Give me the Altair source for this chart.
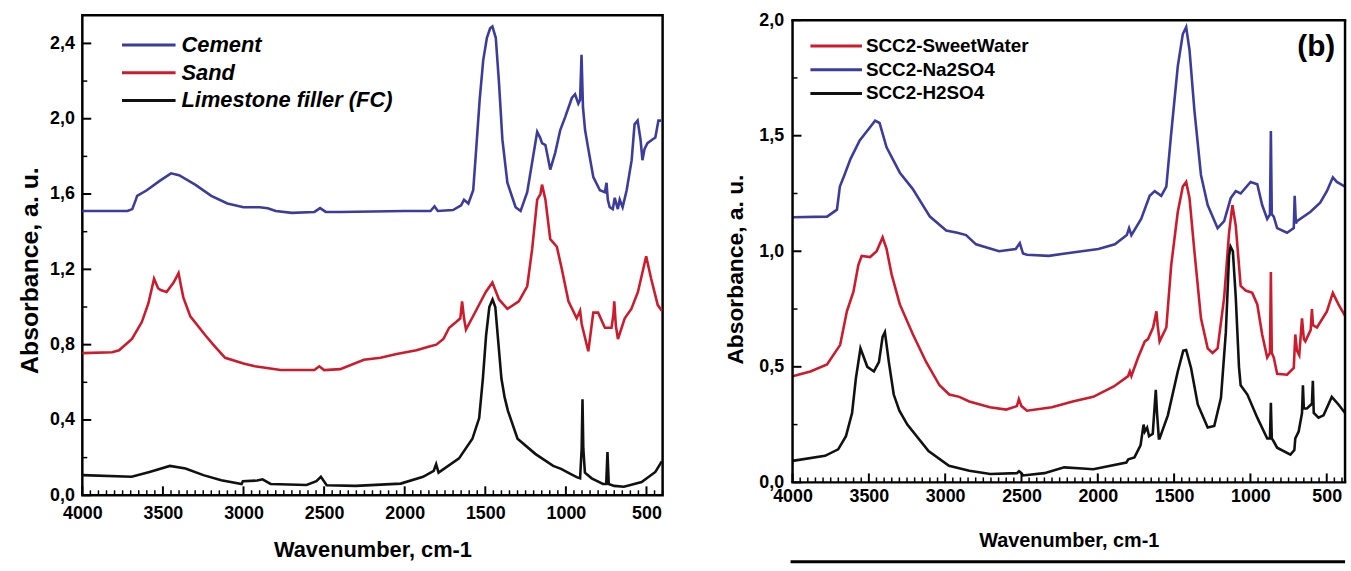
import altair as alt
import pandas as pd

FONT = "Liberation Sans"
BLUE = "#3c3c9c"
RED = "#cc1b2d"
BLACK = "#111111"

# ---------------- panel (a) ----------------
a_series = ["Cement", "Sand", "Limestone filler (FC)"]
a_colors = [BLUE, RED, BLACK]

cement_wn = [4000, 3720, 3690, 3668, 3660, 3600, 3520, 3450, 3400, 3300, 3200, 3100, 3000, 2900, 2850, 2800,
             2700, 2560, 2525, 2490, 2400, 2000, 1840, 1815, 1795, 1700, 1650, 1632, 1605, 1575, 1558, 1535,
             1513, 1490, 1470, 1456, 1435, 1415, 1394, 1363, 1312, 1281, 1240, 1209, 1178, 1160, 1148, 1127,
             1097, 1066, 1035, 1004, 963, 943, 923, 912, 903, 894, 881, 861, 830, 789, 758, 748, 740, 728,
             709, 697, 678, 666, 648, 623, 592, 574, 555, 537, 525, 512, 494, 463, 445, 426, 410]
cement_abs = [1.51, 1.51, 1.52, 1.57, 1.59, 1.62, 1.67, 1.71, 1.70, 1.65, 1.59, 1.55, 1.53, 1.53, 1.525, 1.51,
              1.50, 1.505, 1.525, 1.505, 1.505, 1.51, 1.51, 1.535, 1.51, 1.515, 1.54, 1.57, 1.55, 1.62, 1.82, 2.10,
              2.31, 2.43, 2.48, 2.49, 2.43, 2.19, 1.89, 1.66, 1.53, 1.51, 1.61, 1.77, 1.93, 1.90, 1.87, 1.86,
              1.73, 1.82, 1.94, 2.01, 2.11, 2.13, 2.08, 2.10, 2.34, 2.06, 1.94, 1.84, 1.69, 1.62, 1.61, 1.66, 1.57, 1.53,
              1.52, 1.58, 1.52, 1.57, 1.53, 1.62, 1.78, 1.97, 1.99, 1.89, 1.78, 1.84, 1.87, 1.89, 1.90, 1.99, 1.99]

sand_wn = [4000, 3815, 3772, 3692, 3631, 3590, 3555, 3530, 3514, 3477, 3434, 3403, 3385, 3373, 3330, 3237,
           3188, 3114, 3000, 2930, 2770, 2560, 2530, 2500, 2400, 2253, 2150, 2050, 1927, 1847, 1804, 1760,
           1724, 1681, 1655, 1644, 1632, 1620, 1558, 1497, 1456, 1415, 1363, 1292, 1240, 1209, 1178, 1158,
           1148, 1127, 1097, 1056, 1025, 984, 933, 912, 902, 861, 830, 800, 758, 717, 705, 700, 690, 677,
           635, 594, 553, 502, 471, 430, 405]
sand_abs = [0.755, 0.76, 0.77, 0.83, 0.92, 1.02, 1.15, 1.10, 1.09, 1.08, 1.13, 1.18, 1.10, 1.05, 0.95, 0.85,
            0.80, 0.73, 0.70, 0.685, 0.665, 0.665, 0.685, 0.665, 0.67, 0.72, 0.73, 0.75, 0.77, 0.79, 0.80, 0.83,
            0.89, 0.92, 0.94, 1.03, 0.94, 0.88, 0.98, 1.08, 1.13, 1.04, 0.99, 1.03, 1.11, 1.31, 1.57, 1.60,
            1.65, 1.57, 1.36, 1.32, 1.20, 1.03, 0.94, 0.98, 0.91, 0.765, 0.97, 0.97, 0.89, 0.89, 0.96, 1.03, 0.90, 0.83,
            0.94, 0.99, 1.08, 1.27, 1.15, 1.01, 0.98]

lime_wn = [4000, 3694, 3583, 3457, 3360, 3249, 3138, 3012, 3004, 2915, 2882, 2832, 2609, 2548, 2520, 2484,
           2303, 2025, 1886, 1820, 1805, 1790, 1663, 1580, 1538, 1515, 1495, 1475, 1455, 1438, 1420, 1400,
           1380, 1360, 1300, 1190, 1079, 1030, 975, 930, 912, 902, 897, 892, 882, 840, 770, 750, 742, 734,
           700, 640, 530, 445, 405]
lime_abs = [0.107, 0.098, 0.124, 0.156, 0.142, 0.107, 0.080, 0.060, 0.075, 0.078, 0.085, 0.060, 0.055, 0.075, 0.098, 0.053,
            0.050, 0.062, 0.098, 0.13, 0.165, 0.12, 0.196, 0.30, 0.41, 0.62, 0.85, 1.00, 1.04, 1.00, 0.82, 0.62,
            0.52, 0.45, 0.30, 0.22, 0.156, 0.14, 0.115, 0.095, 0.09, 0.25, 0.51, 0.25, 0.12, 0.09, 0.06, 0.06, 0.23, 0.06,
            0.05, 0.045, 0.07, 0.124, 0.18]

a_xmajor = [4000, 3500, 3000, 2500, 2000, 1500, 1000, 500]
a_xminor = [v for v in range(400, 4000, 50) if v % 500 != 0]
a_ymajor = [0.0, 0.4, 0.8, 1.2, 1.6, 2.0, 2.4]
a_yminor = [0.2, 0.6, 1.0, 1.4, 1.8, 2.2]

# ---------------- panel (b) ----------------
b_series = ["SCC2-SweetWater", "SCC2-Na2SO4", "SCC2-H2SO4"]
b_colors = [RED, BLUE, BLACK]

sw_wn = [4000, 3774, 3709, 3690, 3660, 3620, 3560, 3500, 3459, 3430, 3384, 3297, 3213, 3100, 2993, 2920,
         2863, 2798, 2647, 2538, 2511, 2490, 2464, 2321, 2213, 2105, 1996, 1888, 1810, 1795, 1780, 1716,
         1660, 1627, 1584, 1551, 1519, 1476, 1443, 1421, 1399, 1367, 1324, 1280, 1215, 1172, 1129, 1096,
         1064, 999, 955, 923, 890, 872, 866, 860, 847, 825, 760, 716, 710, 702, 695, 608, 543, 499, 460,
         434, 380]
sw_abs = [1.147, 1.15, 1.18, 1.28, 1.33, 1.40, 1.48, 1.53, 1.565, 1.555, 1.45, 1.34, 1.27, 1.15, 1.09, 1.08,
          1.07, 1.03, 1.00, 1.01, 1.035, 0.99, 0.985, 0.98, 0.99, 1.00, 1.01, 1.03, 1.07, 1.10, 1.07, 1.14,
          1.24, 1.26, 1.24, 1.28, 1.51, 1.80, 1.94, 1.97, 1.87, 1.61, 1.33, 1.20, 1.10, 1.13, 1.23, 1.26,
          1.25, 1.30, 1.29, 1.20, 1.14, 1.16, 1.52, 1.16, 1.15, 1.10, 1.08, 1.10, 1.24, 1.12, 1.13, 1.17, 1.21, 1.26, 1.32,
          1.30, 1.28]

na_wn = [4000, 3883, 3774, 3688, 3644, 3601, 3569, 3547, 3492, 3449, 3410, 3384, 3351, 3297, 3211, 3124,
         3037, 2973, 2907, 2842, 2707, 2600, 2530, 2517, 2500, 2464, 2301, 2164, 2030, 1895, 1801, 1790,
         1780, 1736, 1692, 1671, 1638, 1622, 1616, 1608, 1595, 1551, 1519, 1476, 1443, 1421, 1399, 1367,
         1324, 1280, 1248, 1215, 1172, 1140, 1118, 1096, 1064, 1031, 988, 955, 923, 890, 872, 866, 860,
         847, 825, 760, 716, 706, 695, 680, 662, 650, 640, 605, 597, 590, 564, 499, 460, 423, 380]
na_abs = [0.459, 0.48, 0.51, 0.595, 0.74, 0.825, 0.94, 0.98, 0.975, 1.00, 1.06, 1.01, 0.90, 0.77, 0.64, 0.52,
          0.42, 0.38, 0.37, 0.35, 0.325, 0.315, 0.33, 0.36, 0.33, 0.31, 0.325, 0.35, 0.37, 0.415, 0.46, 0.48,
          0.46, 0.54, 0.61, 0.62, 0.67, 0.72, 0.74, 0.68, 0.61, 0.67, 0.94, 1.17, 1.28, 1.30, 1.23, 1.00,
          0.71, 0.58, 0.56, 0.58, 0.80, 1.08, 1.20, 1.11, 0.85, 0.83, 0.82, 0.77, 0.64, 0.54, 0.56, 0.91, 0.56,
          0.54, 0.47, 0.466, 0.495, 0.64, 0.57, 0.55, 0.71, 0.62, 0.61, 0.66, 0.75, 0.68, 0.67, 0.74, 0.82, 0.77, 0.72]

h2_wn = [4000, 3787, 3701, 3650, 3610, 3585, 3555, 3510, 3467, 3434, 3410, 3395, 3369, 3337, 3300, 3248,
         3109, 2975, 2842, 2704, 2530, 2516, 2500, 2490, 2350, 2220, 2100, 2030, 1813, 1800, 1760, 1720,
         1700, 1692, 1677, 1664, 1640, 1620, 1612, 1600, 1595, 1541, 1476, 1440, 1421, 1389, 1345, 1280,
         1237, 1193, 1161, 1140, 1130, 1115, 1096, 1075, 1064, 1020, 955, 890, 872, 866, 860, 850, 825,
         738, 712, 706, 684, 662, 656, 650, 630, 597, 591, 585, 554, 521, 467, 423, 380]
h2_abs = [0.093, 0.115, 0.143, 0.20, 0.30, 0.45, 0.58, 0.50, 0.48, 0.52, 0.63, 0.65, 0.52, 0.38, 0.31, 0.25,
          0.136, 0.072, 0.05, 0.036, 0.04, 0.048, 0.04, 0.03, 0.04, 0.065, 0.06, 0.057, 0.086, 0.10, 0.108, 0.16,
          0.25, 0.22, 0.237, 0.20, 0.21, 0.40, 0.30, 0.19, 0.19, 0.29, 0.48, 0.57, 0.573, 0.495, 0.337, 0.237,
          0.244, 0.366, 0.65, 0.98, 1.02, 1.00, 0.80, 0.50, 0.42, 0.38, 0.28, 0.19, 0.19, 0.344, 0.19, 0.18, 0.15,
          0.12, 0.14, 0.19, 0.22, 0.30, 0.42, 0.32, 0.32, 0.34, 0.44, 0.30, 0.28, 0.29, 0.37, 0.337, 0.30]

b_xmajor = [4000, 3500, 3000, 2500, 2000, 1500, 1000, 500]
b_xminor = [v for v in range(400, 4000, 50) if v % 500 != 0]
b_ymajor = [0.0, 0.5, 1.0, 1.5, 2.0]
b_yminor = [0.25, 0.75, 1.25, 1.75]


def long_df(names, wns, vals):
    rows = []
    for n, w, v in zip(names, wns, vals):
        for x, y in zip(w, v):
            rows.append({"series": n, "wn": x, "abs": y})
    return pd.DataFrame(rows)


def panel(names, colors, wns, vals, xmaj, xmin, ymaj, ymin, ydom, W, H, xdom,
          lab_size, ttl_x, ttl_y, x_lpad, x_tpad, y_lpad, y_tpad, y_title_y,
          leg_x, leg_x2, leg_tx, leg_y, leg_dy, leg_size, leg_style):
    xs = alt.Scale(domain=xdom, nice=False, zero=False)
    ys = alt.Scale(domain=ydom, nice=False, zero=False)
    df = long_df(names, wns, vals)
    lines = alt.Chart(df).mark_line(strokeWidth=2.6).encode(
        x=alt.X("wn:Q", scale=xs, axis=alt.Axis(
            values=xmaj, format="d", title="Wavenumber, cm-1", labelFont=FONT, labelFontWeight="bold",
            labelFontSize=lab_size, labelColor="black", labelPadding=x_lpad, ticks=False, domain=False,
            grid=False, labelFlush=False, labelOverlap=False, titleFont=FONT, titleFontWeight="bold",
            titleFontSize=ttl_x, titleColor="black", titlePadding=x_tpad)),
        y=alt.Y("abs:Q", scale=ys, axis=alt.Axis(
            values=ymaj, labelExpr="replace(format(datum.value, '.1f'), '.', ',')",
            title="Absorbance, a. u.", labelFont=FONT, labelFontWeight="bold", labelFontSize=lab_size,
            labelColor="black", labelPadding=y_lpad, ticks=False, domain=False, grid=False,
            labelFlush=False, labelOverlap=False, titleFont=FONT, titleFontWeight="bold",
            titleFontSize=ttl_y, titleColor="black", titlePadding=y_tpad, titleY=y_title_y)),
        color=alt.Color("series:N", scale=alt.Scale(domain=names, range=colors), legend=None),
    )
    layers = [lines]
    layers.append(alt.Chart(pd.DataFrame({"wn": xmaj})).mark_rule(color="black", strokeWidth=2).encode(
        x=alt.X("wn:Q", scale=xs), y=alt.value(H), y2=alt.value(H - 9)))
    layers.append(alt.Chart(pd.DataFrame({"wn": xmin})).mark_rule(color="black", strokeWidth=1.5).encode(
        x=alt.X("wn:Q", scale=xs), y=alt.value(H), y2=alt.value(H - 5)))
    layers.append(alt.Chart(pd.DataFrame({"abs": ymaj})).mark_rule(color="black", strokeWidth=2).encode(
        y=alt.Y("abs:Q", scale=ys), x=alt.value(0), x2=alt.value(9)))
    layers.append(alt.Chart(pd.DataFrame({"abs": ymin})).mark_rule(color="black", strokeWidth=1.5).encode(
        y=alt.Y("abs:Q", scale=ys), x=alt.value(0), x2=alt.value(5)))
    for i, (n, c) in enumerate(zip(names, colors)):
        d = pd.DataFrame({"series": [n]})
        yy = leg_y + leg_dy * i
        layers.append(alt.Chart(d).mark_rule(color=c, strokeWidth=3).encode(
            x=alt.value(leg_x), x2=alt.value(leg_x2), y=alt.value(yy)))
        layers.append(alt.Chart(d).mark_text(align="left", baseline="middle", font=FONT, fontWeight="bold",
                                             fontStyle=leg_style, fontSize=leg_size, color="black").encode(
            x=alt.value(leg_tx), y=alt.value(yy), text="series:N"))
    return layers


left_layers = panel(a_series, a_colors, [cement_wn, sand_wn, lime_wn], [cement_abs, sand_abs, lime_abs],
                    a_xmajor, a_xminor, a_ymajor, a_yminor, [0, 2.55], 585, 484, [4000, 400],
                    18, 22, 25, 9, 18, 8, 7, 257,
                    40, 94, 100, 30, 28, 22, "italic")
left = alt.layer(*left_layers).properties(width=585, height=484)

# right panel: plot box starts 5 px above the 2,0 level so both panels share one top origin;
# its visible frame is drawn at the 2,0 level instead of the view border
RW, RH, RTOP = 557, 471, 5
right_layers = panel(b_series, b_colors, [sw_wn, na_wn, h2_wn], [sw_abs, na_abs, h2_abs],
                     b_xmajor, b_xminor, b_ymajor, b_yminor, [0, 2.0215], RW, RH, [4000, 380],
                     18, 20, 23, 5, 26, 9, 11, 256,
                     18, 70, 74, 31, 24, 19, "normal")
frame_d = pd.DataFrame({"f": [0]})
right_layers.append(alt.Chart(frame_d).mark_rule(color="black", strokeWidth=2.5).encode(
    x=alt.value(-1.25), x2=alt.value(RW + 1.25), y=alt.value(RTOP)))
right_layers.append(alt.Chart(frame_d).mark_rule(color="black", strokeWidth=2.5).encode(
    x=alt.value(-1.25), x2=alt.value(RW + 1.25), y=alt.value(RH)))
right_layers.append(alt.Chart(frame_d).mark_rule(color="black", strokeWidth=2.5).encode(
    x=alt.value(0), y=alt.value(RTOP), y2=alt.value(RH)))
right_layers.append(alt.Chart(frame_d).mark_rule(color="black", strokeWidth=2.5).encode(
    x=alt.value(RW), y=alt.value(RTOP), y2=alt.value(RH)))
right_layers.append(alt.Chart(pd.DataFrame({"t": ["(b)"]})).mark_text(
    font=FONT, fontWeight="bold", fontSize=30, align="center", baseline="middle", color="black").encode(
    x=alt.value(528), y=alt.value(32), text="t:N"))
right_layers.append(alt.Chart(pd.DataFrame({"t": ["(c)"]})).mark_rule(color="black", strokeWidth=3).encode(
    x=alt.value(-2), x2=alt.value(RW), y=alt.value(551)))
right = alt.layer(*right_layers).properties(width=RW, height=RH,
                                            view=alt.ViewBackground(strokeOpacity=0))

chart = alt.hconcat(left, right, spacing=56).properties(
    padding={"left": 16, "top": 9, "right": 0, "bottom": 0}, background="white"
).configure_view(stroke="black", strokeWidth=2.5)

chart.save("out.html", embed_options={"renderer": "svg", "actions": False})
